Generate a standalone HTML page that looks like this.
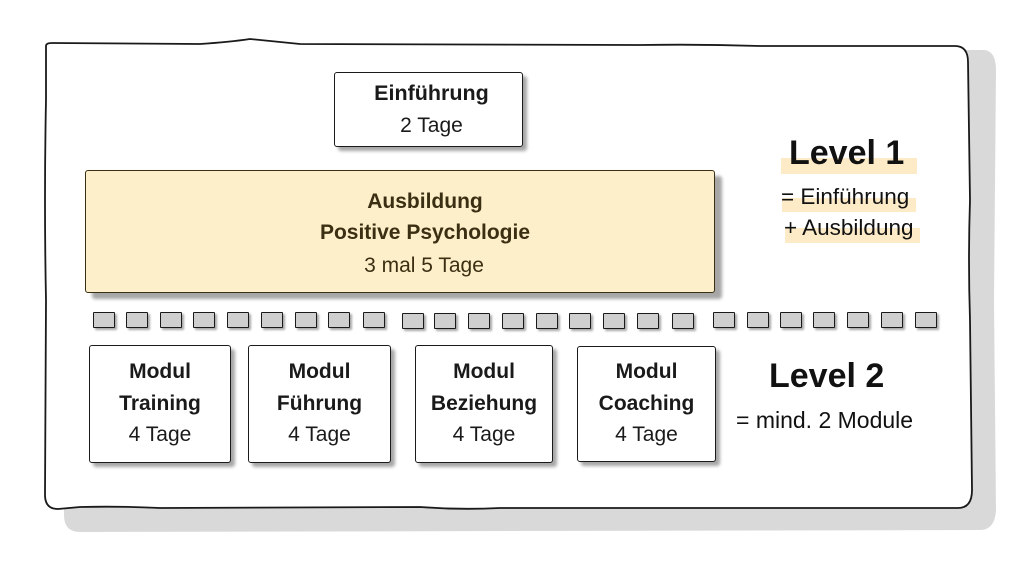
<!DOCTYPE html>
<html><head><meta charset="utf-8"><style>
html,body{margin:0;padding:0;background:#fff;}
body{width:1024px;height:576px;position:relative;overflow:hidden;font-family:"Liberation Sans",sans-serif;}
.box{position:absolute;background:#fff;border:1.6px solid #1a1a1a;border-radius:3px;box-shadow:4px 4px 3px rgba(0,0,0,0.35);text-align:center;color:#1a1a1a;box-sizing:border-box;}
.t{position:absolute;left:0;right:0;text-align:center;white-space:nowrap;font-size:20px;line-height:24px;}
.b{font-weight:bold;}
.sq{position:absolute;top:312px;width:22px;height:16px;background:#cfcfcf;border:1.6px solid #1a1a1a;box-sizing:border-box;box-shadow:2px 2px 2px rgba(0,0,0,0.35);border-radius:1px;}
.lbl{position:absolute;white-space:nowrap;color:#111;}
.hl{position:absolute;background:#fdebc8;}
</style></head><body>
<svg width="1024" height="576" style="position:absolute;left:0;top:0">
<path d="M62,54 Q64,50 80,50 L985,50 Q996,52 996,70 L994,300 L996,510 Q995,530 980,530 L80,532 Q64,532 64,515 Z" fill="#d9d9d9"/>
<path d="M46,46 Q46,43 52,43 L200,44 Q230,42 250,39 Q270,41 300,44 L640,45 Q700,44 760,46 L955,46 Q968,46 968,62 L970,200 Q968,260 970,320 L972,490 Q972,508 958,508 L500,508 Q460,510 420,507 L160,508 Q120,506 80,507 L58,509 Q45,509 45,495 L46,300 Q44,200 46,100 Z" fill="#fff" stroke="#1a1a1a" stroke-width="1.8"/>
</svg>

<div class="box" style="left:334px;top:72px;width:189px;height:75px;">
<div class="t b" style="top:8px;font-size:21.5px;left:6px;">Einführung</div>
<div class="t" style="top:41px;font-size:21px;left:6px;">2 Tage</div>
</div>

<div class="box" style="left:85px;top:170px;width:630px;height:123px;background:#fdefca;border-color:#3a2f12;box-shadow:7px 6px 3px rgba(0,0,0,0.35);color:#3a2f12;">
<div class="t b" style="top:19px;font-size:21px;left:50px;">Ausbildung</div>
<div class="t b" style="top:50px;font-size:21px;left:50px;">Positive Psychologie</div>
<div class="t" style="top:83px;font-size:21px;left:48px;">3 mal 5 Tage</div>
</div>

<div class="hl" style="left:781px;top:158px;width:136px;height:16px;"></div>
<div class="lbl b" style="left:789px;top:133px;font-size:34px;line-height:40px;font-weight:bold;">Level 1</div>
<div class="hl" style="left:782px;top:198px;width:134px;height:14px;"></div>
<div class="lbl" style="left:781px;top:184px;font-size:22.5px;line-height:26px;">= Einführung</div>
<div class="hl" style="left:785px;top:228px;width:135px;height:15px;"></div>
<div class="lbl" style="left:784px;top:215px;font-size:22.5px;line-height:26px;">+ Ausbildung</div>

<div class="sq" style="left:93px"></div><div class="sq" style="left:126px"></div><div class="sq" style="left:160px"></div><div class="sq" style="left:193px"></div><div class="sq" style="left:227px"></div><div class="sq" style="left:261px"></div><div class="sq" style="left:295px"></div><div class="sq" style="left:328px"></div><div class="sq" style="left:363px"></div>
<div class="sq" style="left:402px;top:313px"></div><div class="sq" style="left:434px;top:313px"></div><div class="sq" style="left:468px;top:313px"></div><div class="sq" style="left:502px;top:313px"></div><div class="sq" style="left:536px;top:313px"></div><div class="sq" style="left:569px;top:313px"></div><div class="sq" style="left:603px;top:313px"></div><div class="sq" style="left:637px;top:313px"></div><div class="sq" style="left:672px;top:313px"></div>
<div class="sq" style="left:713px"></div><div class="sq" style="left:747px"></div><div class="sq" style="left:780px"></div><div class="sq" style="left:813px"></div><div class="sq" style="left:847px"></div><div class="sq" style="left:881px"></div><div class="sq" style="left:915px"></div>

<div class="box" style="left:89px;top:345px;width:142px;height:118px;">
<div class="t b" style="top:14px;font-size:21px;">Modul</div>
<div class="t b" style="top:46px;font-size:21px;">Training</div>
<div class="t" style="top:77px;font-size:21px;">4 Tage</div>
</div>
<div class="box" style="left:248px;top:345px;width:143px;height:118px;">
<div class="t b" style="top:14px;font-size:21px;">Modul</div>
<div class="t b" style="top:46px;font-size:21px;">Führung</div>
<div class="t" style="top:77px;font-size:21px;">4 Tage</div>
</div>
<div class="box" style="left:415px;top:345px;width:138px;height:118px;">
<div class="t b" style="top:14px;font-size:21px;">Modul</div>
<div class="t b" style="top:46px;font-size:21px;">Beziehung</div>
<div class="t" style="top:77px;font-size:21px;">4 Tage</div>
</div>
<div class="box" style="left:577px;top:346px;width:139px;height:116px;">
<div class="t b" style="top:13px;font-size:21px;">Modul</div>
<div class="t b" style="top:45px;font-size:21px;">Coaching</div>
<div class="t" style="top:76px;font-size:21px;">4 Tage</div>
</div>

<div class="lbl" style="left:769px;top:356px;font-size:34px;line-height:40px;font-weight:bold;">Level 2</div>
<div class="lbl" style="left:736px;top:406px;font-size:23px;line-height:28px;">= mind. 2 Module</div>
</body></html>
